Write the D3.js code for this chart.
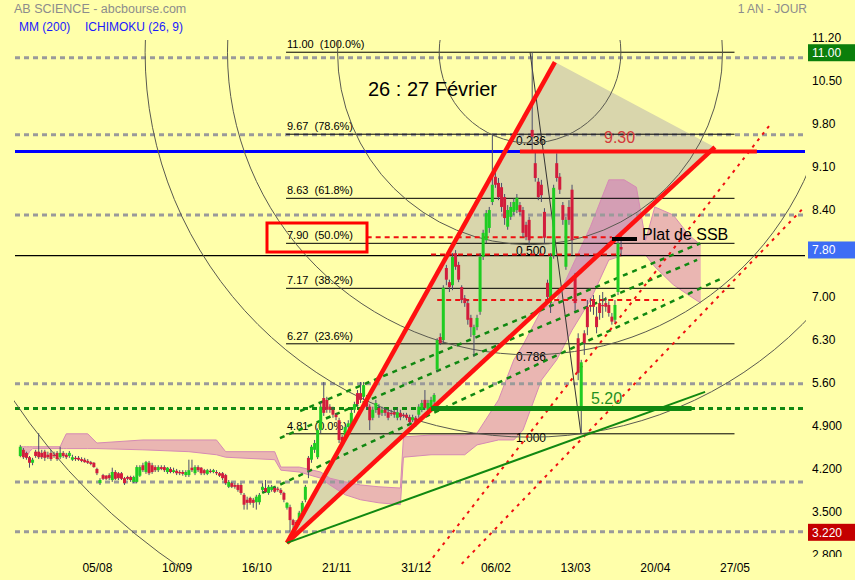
<!DOCTYPE html>
<html><head><meta charset="utf-8">
<script src="https://cdn.jsdelivr.net/npm/d3@7"></script>
<style>body{margin:0;background:#ffffaa;}svg{display:block;font-family:Arial,"Liberation Sans",sans-serif;}</style>
</head><body><svg id="c" width="855" height="580"></svg>
<script>
// ---- data ----
const openP=[4.45,4.55,4.50,4.43,4.34,4.52,4.52,4.50,4.52,4.47,4.50,4.47,4.50,4.43,4.50,4.47,4.45,4.39,4.42,4.42,4.40,4.39,4.37,4.35,4.34,4.24,4.01,4.14,4.13,4.14,4.06,4.19,4.17,4.17,4.09,4.11,4.11,4.03,4.03,4.13,4.30,4.19,4.34,4.30,4.27,4.22,4.27,4.27,4.19,4.24,4.19,4.21,4.19,4.19,4.14,4.14,4.26,4.17,4.27,4.26,4.22,4.16,4.21,4.19,4.19,4.17,4.17,4.14,3.95,4.01,3.98,3.98,3.98,3.82,3.74,3.77,3.74,3.70,3.70,3.90,3.93,3.85,3.90,3.93,3.92,3.90,3.85,3.61,3.62,3.41,3.38,3.38,3.53,3.74,4.42,4.39,4.55,4.43,4.87,5.39,5.36,5.25,5.20,5.12,5.03,4.76,4.76,4.92,4.95,5.20,5.47,5.47,5.41,5.39,5.25,5.07,5.20,5.23,5.15,5.20,5.16,5.15,5.16,5.07,5.15,5.12,5.12,5.08,5.03,5.07,5.12,5.20,5.36,5.20,5.23,5.33,5.85,6.38,6.33,7.50,7.27,7.22,7.74,7.55,7.19,7.01,6.93,6.69,6.41,6.54,6.79,7.68,7.95,8.15,8.57,8.98,8.88,8.81,8.65,8.17,8.33,8.41,8.44,8.52,8.44,8.20,8.28,9.74,9.20,8.90,8.85,8.41,7.26,6.93,7.70,9.20,8.98,8.52,7.52,8.49,8.77,7.36,6.36,5.25,6.44,6.87,6.90,6.98,6.71,6.93,6.90,6.93,6.90,6.71,6.66,7.11,7.84];
const highP=[4.63,4.58,4.52,4.45,4.42,4.55,4.82,4.55,4.55,4.52,4.55,4.52,4.53,4.60,4.53,4.50,4.53,4.47,4.45,4.45,4.43,4.42,4.40,4.37,4.35,4.26,4.09,4.16,4.14,4.17,4.26,4.22,4.19,4.19,4.11,4.13,4.13,4.13,4.30,4.30,4.34,4.37,4.37,4.34,4.30,4.30,4.30,4.30,4.27,4.27,4.26,4.24,4.22,4.22,4.22,4.39,4.39,4.30,4.30,4.27,4.24,4.24,4.24,4.24,4.22,4.19,4.19,4.16,4.06,4.03,4.01,4.01,4.01,3.85,3.79,3.79,3.77,3.82,3.85,4.01,4.06,3.98,3.98,3.95,3.95,3.93,3.87,3.70,3.66,3.43,3.41,3.56,3.72,3.98,4.45,4.63,4.71,4.90,5.33,5.65,5.41,5.29,5.25,5.15,5.07,4.79,4.95,5.03,5.20,5.33,5.52,5.65,5.65,5.44,5.29,5.25,5.36,5.29,5.25,5.23,5.20,5.20,5.20,5.23,5.20,5.15,5.15,5.12,5.12,5.10,5.29,5.36,5.52,5.36,5.41,5.47,6.36,6.44,7.22,7.55,7.31,7.74,7.79,7.60,7.22,7.06,6.98,6.74,6.58,6.74,7.74,8.12,8.44,8.49,9.66,9.12,8.96,8.88,8.70,8.52,8.57,8.63,8.70,8.57,8.49,8.25,8.33,11.00,9.41,8.96,8.93,8.47,7.31,7.74,8.85,9.36,9.04,8.57,8.33,8.60,8.85,7.42,6.44,6.01,6.49,6.98,7.01,7.06,6.87,7.06,7.11,7.03,6.96,6.77,6.98,8.04,8.04];
const lowP=[4.43,4.40,4.39,4.26,4.30,4.42,4.40,4.40,4.37,4.40,4.37,4.42,4.37,4.40,4.42,4.40,4.42,4.37,4.37,4.37,4.35,4.34,4.32,4.30,4.26,4.14,3.98,4.06,4.06,4.06,4.03,4.06,4.06,4.06,3.98,4.06,4.03,4.01,4.01,4.11,4.19,4.16,4.14,4.16,4.19,4.19,4.22,4.19,4.16,4.17,4.17,4.14,4.14,4.13,4.11,4.11,4.19,4.14,4.19,4.14,4.14,4.14,4.17,4.17,4.14,4.11,4.06,3.98,3.93,3.93,3.92,3.87,3.82,3.58,3.58,3.66,3.61,3.58,3.66,3.87,3.85,3.82,3.87,3.85,3.87,3.82,3.70,3.58,3.22,3.22,3.28,3.33,3.49,3.70,4.09,4.34,4.50,4.40,4.82,5.10,5.15,5.15,5.07,5.03,4.66,4.60,4.71,4.87,4.92,5.15,5.25,5.31,5.36,5.20,4.87,5.03,5.15,5.07,5.10,5.10,5.03,5.10,5.07,5.03,5.03,5.07,5.03,4.95,5.00,4.92,5.07,5.16,5.20,5.16,5.20,5.29,5.81,6.25,6.28,7.22,7.11,7.14,7.47,7.27,6.93,6.87,6.58,6.38,6.06,6.49,6.74,7.63,7.90,8.07,8.52,8.80,8.60,8.41,8.20,8.12,8.28,8.36,8.39,8.36,8.00,7.95,7.87,9.41,8.90,8.60,8.57,7.90,6.98,6.77,7.65,8.90,8.70,8.20,7.47,8.20,7.71,6.80,5.68,4.81,6.09,6.41,6.79,6.74,6.44,6.66,6.69,6.79,6.71,6.58,6.61,7.06,7.71];
const closeP=[4.60,4.43,4.42,4.34,4.39,4.45,4.43,4.43,4.42,4.43,4.40,4.45,4.40,4.50,4.45,4.43,4.50,4.43,4.40,4.39,4.37,4.35,4.34,4.32,4.27,4.17,4.06,4.08,4.08,4.09,4.19,4.08,4.09,4.08,4.01,4.08,4.06,4.11,4.27,4.27,4.22,4.35,4.17,4.19,4.22,4.27,4.24,4.22,4.26,4.19,4.22,4.17,4.17,4.16,4.19,4.22,4.22,4.27,4.22,4.17,4.17,4.22,4.19,4.22,4.17,4.13,4.09,4.01,4.03,3.95,3.95,3.90,3.85,3.66,3.69,3.69,3.69,3.79,3.82,3.95,3.87,3.95,3.95,3.87,3.90,3.85,3.74,3.69,3.41,3.33,3.35,3.53,3.69,3.95,4.22,4.60,4.66,4.87,5.25,5.15,5.20,5.20,5.12,5.08,4.71,4.66,4.92,4.98,5.15,5.29,5.29,5.36,5.60,5.25,5.03,5.20,5.31,5.12,5.20,5.15,5.07,5.13,5.12,5.16,5.08,5.10,5.07,5.00,5.08,4.95,5.25,5.31,5.23,5.31,5.36,5.44,6.33,6.28,7.18,7.31,7.19,7.68,7.52,7.31,6.98,6.93,6.66,6.54,6.54,6.69,7.68,8.07,8.39,8.44,8.85,8.85,8.65,8.49,8.31,8.44,8.49,8.57,8.64,8.41,8.07,8.00,7.95,9.63,8.96,8.65,8.68,7.99,7.03,7.68,8.80,8.96,8.77,8.28,8.28,8.28,7.95,6.93,5.80,5.97,6.28,6.54,6.87,6.87,6.54,6.77,6.88,6.87,6.77,6.63,6.90,7.90,7.80];

// Ichimoku cloud outline (index, upper, lower)
const cloudIdx=[0,1,2,3,4,13,14,15,22,25,40,55,64,67,83,85,91,98,101,106,111,117,124,125,134,145,149,156,161,164,170,175,180,186,192,197,201,204,207,213,218,222];
const cloudUp=[4.60,4.60,4.60,4.60,4.60,4.60,4.71,4.81,4.81,4.66,4.71,4.71,4.71,4.52,4.52,4.27,4.27,4.19,4.09,4.03,3.98,3.95,3.93,4.76,4.79,4.79,4.82,5.36,6.01,6.25,6.82,6.98,7.52,8.17,8.93,8.93,8.81,7.95,8.49,8.36,8.04,7.87];
const cloudLo=[4.57,4.52,4.42,4.52,4.57,4.57,4.57,4.57,4.57,4.57,4.55,4.52,4.47,4.43,4.39,4.22,4.19,4.09,3.98,3.82,3.74,3.69,3.66,4.43,4.47,4.47,4.63,4.71,4.71,4.87,5.68,6.01,6.49,6.98,7.63,7.71,7.71,7.71,7.52,7.23,7.06,6.93];

const xTickIdx=[25,51,77,103,129,155,181,207,233];
const xTickLab=["05/08","10/09","16/10","21/11","31/12","06/02","13/03","20/04","27/05"];
const yTicks=[11.2,10.5,9.8,9.1,8.4,7.0,6.3,5.6,4.9,4.2,3.5,2.8];

const fibVals=[11.00,9.67,8.63,7.90,7.17,6.27,4.81];
const fibPct=["100.0%","78.6%","61.8%","50.0%","38.2%","23.6%","0.0%"];
const fib2Lab=["0.236","0.500","0.786","1.000"];
const fib2Val=[9.56,7.77,6.05,4.74];
const arcRatios=[0.236,0.5,0.786,1,1.618];
const arcHigh=[166.3,11.00], arcLow=[182.9,4.81];

const grayLevels=[10.91,9.66,8.36,5.62,4.03,3.22];
const greenLevel=5.22, blueLevel=9.39, lastLine=7.70;
const valueBoxes=[{v:11.00,t:"11.00",c:"#0b7f0b"},{v:7.80,t:"7.80",c:"#3d6df5"},{v:3.22,t:"3.220",c:"#c40000"}];

// drawn tools (index,value pairs)
const redFan=[[[87,3.04],[174.4,10.84]],[[87,3.04],[226.6,9.46]]];
const fanFill=[[87,3.04],[174.4,10.84],[226.6,9.46]];
const red930=[[163,9.39],[240.3,9.39]];
const greenSolid=[[87,3.04],[223.4,5.49]];
const greenThick=[[134,5.22],[219,5.22]];
const greenDashed=[[[91.3,5.18],[221.8,7.90]],[[84.7,4.74],[220.8,7.63]],[[78.9,3.85],[228.3,7.32]]];
const redDotted=[[[133,2.70],[245,9.85]],[[144,2.70],[256,8.50]]];
const redDashH=[[[113,8.00],[193,8.00]],[[134,7.72],[196,7.72]],[[136,6.98],[210,6.98]]];

// ---- drawing ----
const svg=d3.select("#c");
const x=d3.scaleLinear().domain([0,233]).range([20.3,734.5]);
const y=d3.scaleLinear().domain([2.8,11.2]).range([557.7,39.9]);
svg.append("rect").attr("width",855).attr("height",580).attr("fill","#ffffaa");
const defs=svg.append("defs");
defs.append("clipPath").attr("id","pc").append("rect").attr("x",14).attr("y",40).attr("width",792).attr("height",528);
defs.append("clipPath").attr("id","ac").append("rect").attr("x",800).attr("y",0).attr("width",55).attr("height",557);
const P=svg.append("g").attr("clip-path","url(#pc)");
const pt=d=>[x(d[0]),y(d[1])];
const line=d3.line().x(d=>x(d[0])).y(d=>y(d[1]));

// fan fill
P.append("path").attr("d",line(fanFill)+"Z").attr("fill","#d9d6ac");

// cloud
const cl=cloudIdx.map((d,i)=>({i:d,a:cloudUp[i],b:cloudLo[i]}));
P.append("path").datum(cl).attr("d",d3.area().x(d=>x(d.i)).y0(d=>y(d.b)).y1(d=>y(d.a)))
 .attr("fill","rgba(205,80,190,0.42)");
P.append("path").datum(cl).attr("d",d3.line().x(d=>x(d.i)).y(d=>y(d.a))).attr("fill","none").attr("stroke","#d58ab4").attr("stroke-width",1);
P.append("path").datum(cl).attr("d",d3.line().x(d=>x(d.i)).y(d=>y(d.b))).attr("fill","none").attr("stroke","#d58ab4").attr("stroke-width",1);

// horizontal levels
grayLevels.forEach(v=>P.append("line").attr("x1",15).attr("x2",805).attr("y1",y(v)).attr("y2",y(v)).attr("stroke","#9a9a9a").attr("stroke-width",3).attr("stroke-dasharray","5,4"));
P.append("line").attr("x1",15).attr("x2",805).attr("y1",y(greenLevel)).attr("y2",y(greenLevel)).attr("stroke","#118811").attr("stroke-width",3).attr("stroke-dasharray","5,4");
P.append("line").attr("x1",15).attr("x2",805).attr("y1",y(blueLevel)).attr("y2",y(blueLevel)).attr("stroke","#0000ff").attr("stroke-width",3);
P.append("line").attr("x1",15).attr("x2",805).attr("y1",y(lastLine)).attr("y2",y(lastLine)).attr("stroke","#000").attr("stroke-width",1.2);

// fib lines
fibVals.forEach((v,k)=>{
  P.append("line").attr("x1",x(86.7)).attr("x2",x(233)).attr("y1",y(v)).attr("y2",y(v)).attr("stroke","#000").attr("stroke-width",1);
  P.append("text").attr("x",287).attr("y",y(v)-4).attr("font-size",11).attr("fill","#000").attr("xml:space","preserve").text(v.toFixed(2)+"  ("+fibPct[k]+")");
});
fib2Lab.forEach((t,k)=>P.append("text").attr("x",516).attr("y",y(fib2Val[k])+4).attr("font-size",12).text(t));

// arcs
const c0=pt(arcHigh),c1=pt(arcLow);const R=Math.hypot(c1[0]-c0[0],c1[1]-c0[1]);
arcRatios.forEach(r=>P.append("circle").attr("cx",c0[0]).attr("cy",c0[1]).attr("r",r*R).attr("fill","none").attr("stroke","#5a5a50").attr("stroke-width",1));
P.append("line").attr("x1",c0[0]).attr("y1",c0[1]).attr("x2",c1[0]).attr("y2",c1[1]).attr("stroke","#333").attr("stroke-width",1);

// green dashed channels
greenDashed.forEach(s=>P.append("path").attr("d",line(s)).attr("stroke","#118811").attr("stroke-width",2.5).attr("stroke-dasharray","5,5").attr("fill","none"));
// red dotted
redDotted.forEach(s=>P.append("path").attr("d",line(s)).attr("stroke","#ee1111").attr("stroke-width",2).attr("stroke-dasharray","3,5").attr("fill","none"));
redDashH.forEach(s=>P.append("path").attr("d",line(s)).attr("stroke","#ee1111").attr("stroke-width",2).attr("stroke-dasharray","5,4").attr("fill","none"));

// candles
const C=P.append("g");
openP.forEach((o,i)=>{
  const c=closeP[i],up=c>=o;
  C.append("line").attr("x1",x(i)).attr("x2",x(i)).attr("y1",y(highP[i])).attr("y2",y(lowP[i])).attr("stroke","#4b4d6b").attr("stroke-width",1);
  const t=y(Math.max(o,c)),b=y(Math.min(o,c));
  C.append("rect").attr("x",x(i)-1.5).attr("width",3).attr("y",t).attr("height",Math.max(1,b-t)).attr("fill",up?"#1fcc22":"#d21c3c");
});

// thick tools
redFan.forEach(s=>P.append("path").attr("d",line(s)).attr("stroke","#ff1010").attr("stroke-width",4.5).attr("fill","none"));
P.append("path").attr("d",line(red930)).attr("stroke","#ff1010").attr("stroke-width",4).attr("fill","none");
P.append("path").attr("d",line(greenSolid)).attr("stroke","#118811").attr("stroke-width",2).attr("fill","none");
P.append("path").attr("d",line(greenThick)).attr("stroke","#118811").attr("stroke-width",5).attr("fill","none");

// annotations
svg.append("rect").attr("x",267).attr("y",223).attr("width",100).attr("height",29).attr("fill","none").attr("stroke","#ff0000").attr("stroke-width",3);
svg.append("text").attr("x",368).attr("y",96).attr("font-size",20).text("26 : 27 Février");
svg.append("text").attr("x",604).attr("y",143).attr("font-size",16).attr("fill","#d43a3a").text("9.30");
svg.append("text").attr("x",591).attr("y",404).attr("font-size",16).attr("fill","#1f8f1f").text("5.20");
svg.append("rect").attr("x",612).attr("y",237).attr("width",25).attr("height",4).attr("fill","#000");
svg.append("text").attr("x",642).attr("y",240).attr("font-size",16).text("Plat de SSB");

// axes
const ya=d3.axisRight(y).tickValues(yTicks).tickSize(0).tickPadding(0).tickFormat(v=>v>=5.6?v.toFixed(2):v.toFixed(3));
const yg=svg.append("g").attr("clip-path","url(#ac)").append("g").attr("transform","translate(812,0)").call(ya);
yg.select(".domain").remove();
yg.selectAll("text").attr("font-size",12).attr("fill","#000").attr("dy","0.1em").attr("font-family","Arial");
valueBoxes.forEach(b=>{
  svg.append("rect").attr("x",808).attr("y",y(b.v)-8).attr("width",47).attr("height",17).attr("fill",b.c);
  svg.append("text").attr("x",812).attr("y",y(b.v)+5).attr("font-size",12).attr("fill","#fff").text(b.t);
});
const xa=d3.axisBottom(x).tickValues(xTickIdx).tickSize(0).tickFormat((d,i)=>xTickLab[i]);
const xg=svg.append("g").attr("transform","translate(0,560)").call(xa);
xg.select(".domain").remove();
xg.selectAll("text").attr("font-size",12).attr("fill","#000").attr("font-family","Arial");

// header
svg.append("text").attr("x",14).attr("y",13).attr("font-size",12.5).attr("fill","#8c8c8c").text("AB SCIENCE - abcbourse.com");
svg.append("text").attr("x",807).attr("y",13).attr("text-anchor","end").attr("font-size",12).attr("fill","#8c8c8c").text("1 AN - JOUR");
svg.append("text").attr("x",19).attr("y",31).attr("font-size",12).attr("fill","#1a1aff").text("MM (200)");
svg.append("text").attr("x",85).attr("y",31).attr("font-size",12).attr("fill","#1a1aff").text("ICHIMOKU (26, 9)");
</script></body></html>
